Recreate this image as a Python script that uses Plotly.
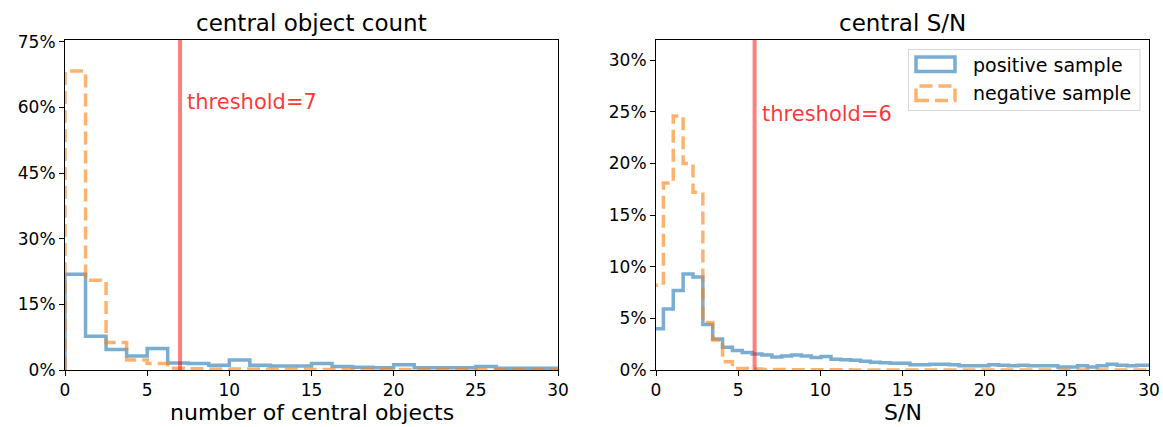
import plotly.graph_objects as go

# ---------------- data ----------------
# left panel: number of central objects, bins of width 1.25
count_edges = [0, 1.25, 2.5, 3.75, 5, 6.25, 7.5, 8.75, 10, 11.25, 12.5, 13.75, 15,
               16.25, 17.5, 18.75, 20, 21.25, 22.5, 23.75, 25, 26.25, 27.5, 28.75, 30]
count_positive = [21.9, 7.7, 4.7, 3.2, 4.9, 1.6, 1.5, 1.1, 2.3, 1.1, 0.9, 0.9, 1.5,
                  0.8, 0.6, 0.5, 1.2, 0.5, 0.5, 0.5, 0.8, 0.4, 0.4, 0.4]
count_negative = [68.3, 20.5, 6.3, 2.3, 1.5, 0.4, 0.3, 0.25, 0.2, 0.2, 0.15, 0.15, 0.1,
                  0.1, 0.1, 0.1, 0.1, 0.05, 0.05, 0.05, 0.05, 0.05, 0.05, 0.05]

# right panel: S/N, bins of width 0.6
sn_edges = [-0.15, 0.45, 1.05, 1.65, 2.25, 2.85, 3.45, 4.05, 4.65, 5.25, 5.85, 6.45, 7.05,
            7.65, 8.25, 8.85, 9.45, 10.05, 10.65, 11.25, 11.85, 12.45, 13.05, 13.65, 14.25,
            14.85, 15.45, 16.05, 16.65, 17.25, 17.85, 18.45, 19.05, 19.65, 20.25, 20.85,
            21.45, 22.05, 22.65, 23.25, 23.85, 24.45, 25.05, 25.65, 26.25, 26.85, 27.45,
            28.05, 28.65, 29.25, 29.85, 30.45]
sn_positive = [4.0, 5.9, 7.7, 9.3, 9.0, 4.4, 3.0, 2.2, 1.9, 1.7, 1.55, 1.45, 1.25, 1.35,
               1.45, 1.35, 1.2, 1.3, 1.05, 1.0, 0.95, 0.85, 0.75, 0.7, 0.65, 0.65, 0.5,
               0.5, 0.55, 0.55, 0.5, 0.4, 0.4, 0.4, 0.5, 0.45, 0.4, 0.45, 0.4, 0.4, 0.4,
               0.3, 0.3, 0.4, 0.3, 0.4, 0.55, 0.45, 0.4, 0.45, 0.45]
sn_negative = [8.2, 18.1, 24.6, 20.0, 17.2, 4.6, 2.9, 0.8, 0.15, 0.15, 0.1, 0.05, 0.05,
               0.04, 0.03, 0.03, 0.02, 0.02, 0.02, 0.02, 0.01, 0.01, 0.01, 0.01, 0.01,
               0.01, 0.01, 0.01, 0.01, 0.01, 0.01, 0.01, 0.01, 0.01, 0.01, 0.01, 0.01,
               0.01, 0.01, 0.01, 0.01, 0.01, 0.01, 0.01, 0.01, 0.01, 0.01, 0.01, 0.01,
               0.01, 0.01]

thresholds = [7, 6]
titles = ["central object count", "central S/N"]
xlabels = ["number of central objects", "S/N"]
legend_labels = ["positive sample", "negative sample"]
left_yticks = [0, 15, 30, 45, 60, 75]
right_yticks = [0, 5, 10, 15, 20, 25, 30]
xticks = [0, 5, 10, 15, 20, 25, 30]

# ---------------- styles ----------------
BLUE = "rgba(31,119,180,0.6)"
ORANGE = "rgba(255,127,14,0.6)"
RED_LINE = "rgba(255,0,0,0.5)"
RED_TEXT = "rgba(255,0,0,0.8)"
FONT = "DejaVu Sans"
LW = 3.5
DASH = "13px,6px"


def step_xy(edges, heights):
    xs = [edges[0]] + list(edges)
    ys = [0] + list(heights) + [0]
    return xs, ys


fig = go.Figure()

for (edges, pos, neg, xa, ya) in [
    (count_edges, count_positive, count_negative, "x", "y"),
    (sn_edges, sn_positive, sn_negative, "x2", "y2"),
]:
    x, y = step_xy(edges, pos)
    fig.add_trace(go.Scatter(x=x, y=y, mode="lines", line_shape="hv",
                             line=dict(color=BLUE, width=LW), xaxis=xa, yaxis=ya,
                             showlegend=False, name=legend_labels[0]))
    x, y = step_xy(edges, neg)
    fig.add_trace(go.Scatter(x=x, y=y, mode="lines", line_shape="hv",
                             line=dict(color=ORANGE, width=LW, dash=DASH),
                             xaxis=xa, yaxis=ya, showlegend=False, name=legend_labels[1]))

W, H = 1163, 427
ML, MR, MT, MB = 65, 14, 40, 57
PW = W - ML - MR
PH = H - MT - MB
d1 = [0, (558 - ML) / PW]
d2 = [(656 - ML) / PW, 1]

axis_common = dict(showline=True, linecolor="black", linewidth=1, mirror=True,
                   ticks="outside", ticklen=5, tickcolor="black", tickwidth=1,
                   showgrid=False, zeroline=False, automargin=False,
                   tickfont=dict(family=FONT, size=17, color="black"))

fig.update_layout(
    width=W, height=H,
    margin=dict(l=ML, r=MR, t=MT, b=MB, autoexpand=False),
    paper_bgcolor="white", plot_bgcolor="white",
    font=dict(family=FONT, color="black"),
    xaxis=dict(domain=d1, range=[0, 30], tickmode="array", tickvals=xticks,
               ticktext=[str(v) for v in xticks], anchor="y", **axis_common),
    yaxis=dict(domain=[0, 1], range=[0, 75.4], tickmode="array", tickvals=left_yticks,
               ticktext=[f"{v}%" for v in left_yticks], anchor="x", **axis_common),
    xaxis2=dict(domain=d2, range=[0, 30], tickmode="array", tickvals=xticks,
                ticktext=[str(v) for v in xticks], anchor="y2", **axis_common),
    yaxis2=dict(domain=[0, 1], range=[0, 31.95], tickmode="array", tickvals=right_yticks,
                ticktext=[f"{v}%" for v in right_yticks], anchor="x2", **axis_common),
)

# threshold lines and labels
for i, (t, xr, yr, ylab) in enumerate([(thresholds[0], "x", "y", 61.3),
                                       (thresholds[1], "x2", "y2", 24.8)]):
    fig.add_shape(type="line", xref=xr, yref=yr + " domain", x0=t, x1=t, y0=0, y1=1,
                  line=dict(color=RED_LINE, width=4))
    fig.add_annotation(x=t + 0.3, y=ylab, xref=xr, yref=yr, xanchor="left",
                       yanchor="middle", showarrow=False,
                       text=f"threshold={t}",
                       font=dict(family=FONT, size=21, color=RED_TEXT))

# titles & x labels
for dom, title, xl in [(d1, titles[0], xlabels[0]), (d2, titles[1], xlabels[1])]:
    cx = (dom[0] + dom[1]) / 2
    fig.add_annotation(x=cx, y=1, xref="paper", yref="paper", xanchor="center",
                       yanchor="bottom", yshift=2, showarrow=False, text=title,
                       font=dict(family=FONT, size=23, color="black"))
    fig.add_annotation(x=cx, y=0, xref="paper", yref="paper", xanchor="center",
                       yanchor="top", yshift=-28, showarrow=False, text=xl,
                       font=dict(family=FONT, size=22, color="black"))


# custom legend (matplotlib-like patch outlines)
def px(x):
    return (x - ML) / PW


def py(y):
    return (H - MB - y) / PH


fig.add_shape(type="rect", xref="paper", yref="paper",
              x0=px(908.5), x1=px(1140), y0=py(110.5), y1=py(49.5),
              line=dict(color="rgb(215,215,215)", width=1), fillcolor="rgba(255,255,255,0.8)")
fig.add_shape(type="rect", xref="paper", yref="paper",
              x0=px(916), x1=px(955), y0=py(71.5), y1=py(57),
              line=dict(color=BLUE, width=LW), fillcolor="rgba(0,0,0,0)")
fig.add_shape(type="rect", xref="paper", yref="paper",
              x0=px(916), x1=px(955), y0=py(100.5), y1=py(86),
              line=dict(color=ORANGE, width=LW, dash=DASH), fillcolor="rgba(0,0,0,0)")
for lab, yy in [(legend_labels[0], 65), (legend_labels[1], 93)]:
    fig.add_annotation(x=px(971), y=py(yy), xref="paper", yref="paper", xanchor="left",
                       yanchor="middle", showarrow=False, text=lab,
                       font=dict(family=FONT, size=19, color="black"))

fig.write_html("out.html")
